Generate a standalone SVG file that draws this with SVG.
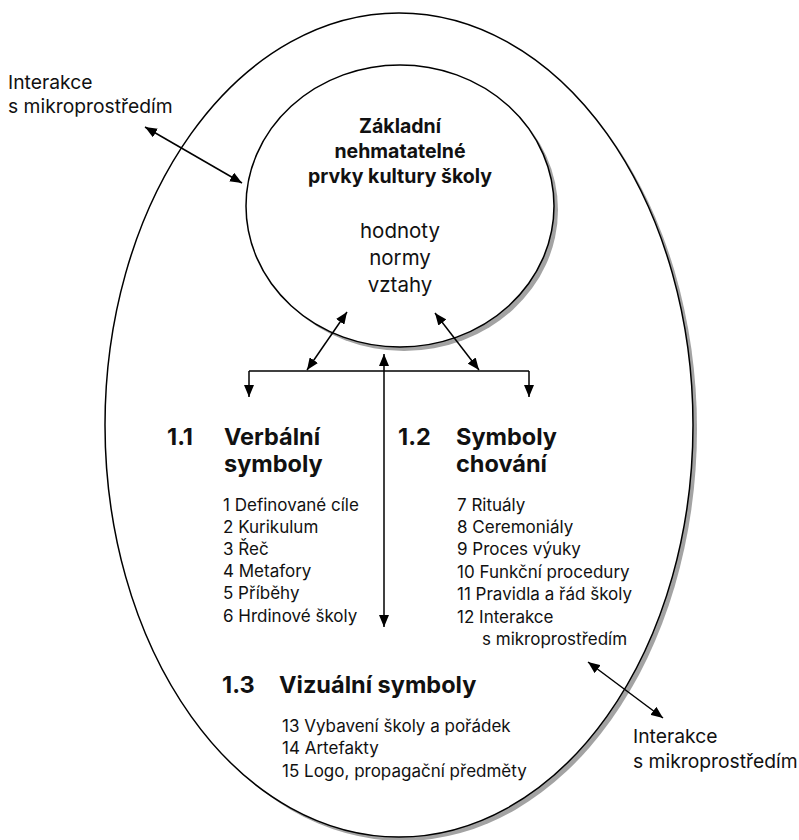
<svg xmlns="http://www.w3.org/2000/svg" width="799" height="840" viewBox="0 0 799 840">
  <style>
    .txt { font-family: Inter, "Liberation Sans", sans-serif; fill: #111; }
    .lab { font-size: 19.3px; }
    .item { font-size: 17px; }
    .core { font-size: 19.5px; font-weight: 700; }
    .vals { font-size: 20.5px; }
    .head { font-size: 23.5px; font-weight: 700; }
    .ring { fill: #fff; stroke: #000; stroke-width: 1.5; }
    .shadow { fill: #a3a3a3; }
    .arrow { fill: none; stroke: #000; stroke-width: 1.5; }
  </style>
  <defs>
    <marker id="head" markerUnits="userSpaceOnUse" markerWidth="12" markerHeight="10" refX="12" refY="5" orient="auto-start-reverse">
      <path d="M0,0 L12,5 L0,10 z" fill="#000"/>
    </marker>
  </defs>
  <rect width="799" height="840" fill="#fff"/>

  <!-- outer culture ellipse -->
  <g id="culture">
    <ellipse class="shadow" cx="403" cy="429" rx="294" ry="412"/>
    <ellipse class="ring" cx="399" cy="425" rx="294" ry="412"/>
  </g>

  <!-- core elements circle -->
  <g id="core">
    <ellipse class="shadow" cx="404" cy="210" rx="154" ry="141"/>
    <ellipse class="ring" cx="400" cy="206" rx="154" ry="141"/>
    <text class="txt core" text-anchor="middle" x="400" y="133">Základní</text>
    <text class="txt core" text-anchor="middle" x="400" y="158">nehmatatelné</text>
    <text class="txt core" text-anchor="middle" x="400" y="183">prvky kultury školy</text>
    <text class="txt vals" text-anchor="middle" x="400" y="238">hodnoty</text>
    <text class="txt vals" text-anchor="middle" x="400" y="265">normy</text>
    <text class="txt vals" text-anchor="middle" x="400" y="292">vztahy</text>
  </g>

  <!-- connectors -->
  <g id="connectors">
    <line class="arrow" x1="145" y1="127" x2="242" y2="183" marker-start="url(#head)" marker-end="url(#head)"/>
    <line class="arrow" x1="249" y1="371" x2="529" y2="371"/>
    <line class="arrow" x1="249" y1="371" x2="249" y2="397" marker-end="url(#head)"/>
    <line class="arrow" x1="529" y1="371" x2="529" y2="397" marker-end="url(#head)"/>
    <line class="arrow" x1="307" y1="370" x2="347" y2="312" marker-start="url(#head)" marker-end="url(#head)"/>
    <line class="arrow" x1="479" y1="370" x2="435" y2="313" marker-start="url(#head)" marker-end="url(#head)"/>
    <line class="arrow" x1="384" y1="354" x2="384" y2="627" marker-start="url(#head)" marker-end="url(#head)"/>
    <line class="arrow" x1="588" y1="662" x2="663" y2="718" marker-start="url(#head)" marker-end="url(#head)"/>
  </g>

  <!-- outside labels -->
  <g id="env-top">
    <text class="txt lab" x="8" y="89">Interakce</text>
    <text class="txt lab" x="8" y="113">s mikroprostředím</text>
  </g>
  <g id="env-bottom">
    <text class="txt lab" x="633" y="743">Interakce</text>
    <text class="txt lab" x="633" y="768">s mikroprostředím</text>
  </g>

  <!-- 1.1 verbal symbols -->
  <g id="verbal">
    <text class="txt head" x="167" y="445">1.1</text>
    <text class="txt head" x="224" y="445">Verbální</text>
    <text class="txt head" x="224" y="472">symboly</text>
    <text class="txt item" x="223" y="511">1 Definované cíle</text>
    <text class="txt item" x="223" y="533">2 Kurikulum</text>
    <text class="txt item" x="223" y="555">3 Řeč</text>
    <text class="txt item" x="223" y="577">4 Metafory</text>
    <text class="txt item" x="223" y="599">5 Příběhy</text>
    <text class="txt item" x="223" y="622">6 Hrdinové školy</text>
  </g>

  <!-- 1.2 behavioural symbols -->
  <g id="behaviour">
    <text class="txt head" x="398" y="445">1.2</text>
    <text class="txt head" x="456" y="445">Symboly</text>
    <text class="txt head" x="456" y="472">chování</text>
    <text class="txt item" x="457" y="511">7 Rituály</text>
    <text class="txt item" x="457" y="533">8 Ceremoniály</text>
    <text class="txt item" x="457" y="555">9 Proces výuky</text>
    <text class="txt item" x="457" y="578">10 Funkční procedury</text>
    <text class="txt item" x="457" y="600">11 Pravidla a řád školy</text>
    <text class="txt item" x="457" y="623">12 Interakce</text>
    <text class="txt item" x="482" y="645">s mikroprostředím</text>
  </g>

  <!-- 1.3 visual symbols -->
  <g id="visual">
    <text class="txt head" x="222" y="693">1.3</text>
    <text class="txt head" x="279" y="693">Vizuální symboly</text>
    <text class="txt item" x="282" y="732">13 Vybavení školy a pořádek</text>
    <text class="txt item" x="282" y="754">14 Artefakty</text>
    <text class="txt item" x="282" y="777">15 Logo, propagační předměty</text>
  </g>
</svg>
